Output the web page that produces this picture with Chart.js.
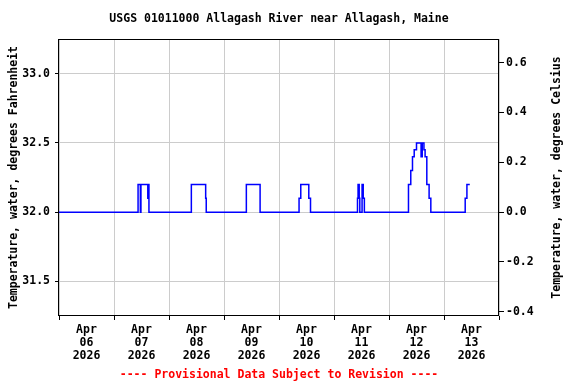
<!DOCTYPE html>
<html>
<head>
<meta charset="utf-8">
<script src="https://cdn.jsdelivr.net/npm/chart.js@4"></script>
<style>
  body { margin: 0; background: #fff; }
  canvas { display: block; }
</style>
</head>
<body>
<canvas id="chartTemp" width="576" height="384"></canvas>
<script>
// hours since Apr 06 2026 00:00, value in degrees F (step changes)
const hours = [0, 34.5, 35.5, 35.75, 38.75, 39.0, 39.25,
  57.75, 64.0, 64.25,
  81.75, 87.75,
  104.75, 105.5, 109.0, 109.75,
  130.25, 130.5, 131.0, 131.25, 132.25, 132.75, 133.25,
  152.5, 153.5, 154.25, 155.0, 156.0, 158.0, 158.5, 159.25, 159.75, 160.5, 161.5, 162.25,
  177.25, 178.0, 179.25];
const tempF = [32.0, 32.2, 32.0, 32.2, 32.1, 32.2, 32.0,
  32.2, 32.1, 32.0,
  32.2, 32.0,
  32.1, 32.2, 32.1, 32.0,
  32.1, 32.2, 32.1, 32.0, 32.2, 32.1, 32.0,
  32.2, 32.3, 32.4, 32.45, 32.5, 32.4, 32.5, 32.45, 32.4, 32.2, 32.1, 32.0,
  32.1, 32.2, 32.2];

const dayLabels = ['06', '07', '08', '09', '10', '11', '12', '13'];
const leftTicks = [31.5, 32.0, 32.5, 33.0];
const rightTicks = [-0.4, -0.2, 0.0, 0.2, 0.4, 0.6];

const yMinF = 31.25, yMaxF = 33.25;
const toC = f => (f - 32) / 1.8;

const FONT = 'DejaVu Sans Mono';
const tickFont = { family: FONT, size: 11.5, weight: 'bold', lineHeight: 1.13 };
const gridGray = '#cccccc';

const points = hours.map((h, i) => ({ x: h, y: tempF[i] }));

// titles, footer and the black frame round the plot
const textPlugin = {
  id: 'usgsText',
  beforeDraw(chart) {
    const ctx = chart.ctx;
    ctx.save();
    ctx.fillStyle = '#fff';
    ctx.fillRect(0, 0, chart.width, chart.height);
    ctx.restore();
  },
  afterDraw(chart) {
    const { ctx, chartArea: a } = chart;
    const cx = (a.left + a.right) / 2;
    const cy = (a.top + a.bottom) / 2;
    ctx.save();
    ctx.strokeStyle = '#000';
    ctx.lineWidth = 1;
    ctx.strokeRect(Math.round(a.left) - 0.5, Math.round(a.top) + 0.5,
      Math.round(a.right - a.left), Math.round(a.bottom - a.top) - 1);

    ctx.font = 'bold 11.5px "' + FONT + '"';
    ctx.textAlign = 'center';
    ctx.textBaseline = 'middle';
    ctx.fillStyle = '#000';
    ctx.fillText('USGS 01011000 Allagash River near Allagash, Maine', cx, 19);

    ctx.fillStyle = '#ff0000';
    ctx.fillText('---- Provisional Data Subject to Revision ----', cx, 375);

    ctx.fillStyle = '#000';
    ctx.translate(14, cy);
    ctx.rotate(-Math.PI / 2);
    ctx.fillText('Temperature, water, degrees Fahrenheit', 0, 0);
    ctx.restore();

    ctx.save();
    ctx.font = 'bold 11.5px "' + FONT + '"';
    ctx.textAlign = 'center';
    ctx.textBaseline = 'middle';
    ctx.fillStyle = '#000';
    ctx.translate(557, cy);
    ctx.rotate(-Math.PI / 2);
    ctx.fillText('Temperature, water, degrees Celsius', 0, 0);
    ctx.restore();
  }
};

const config = {
  type: 'line',
  data: {
    datasets: [{
      data: points,
      borderColor: '#0000ff',
      borderWidth: 1.5,
      stepped: 'before',
      pointRadius: 0,
      fill: false,
      yAxisID: 'y'
    }]
  },
  options: {
    responsive: false,
    animation: false,
    devicePixelRatio: 1,
    layout: { padding: { top: 39, left: 0, right: 0, bottom: 0 } },
    plugins: {
      legend: { display: false },
      tooltip: { enabled: false }
    },
    scales: {
      x: {
        type: 'linear',
        min: 0,
        max: 192,
        afterFit(scale) { scale.height = 68; },
        afterBuildTicks(scale) {
          const t = [];
          for (let h = 0; h <= 192; h += 12) t.push({ value: h });
          scale.ticks = t;
        },
        border: { display: false },
        grid: {
          color: c => (c.tick && c.tick.value % 24 === 0) ? gridGray : 'rgba(0,0,0,0)',
          tickColor: c => (c.tick && c.tick.value % 24 === 0) ? '#000' : 'rgba(0,0,0,0)',
          tickLength: 4
        },
        ticks: {
          autoSkip: false,
          maxRotation: 0,
          padding: 4,
          color: '#000',
          font: tickFont,
          callback: v => {
            if (v % 24 !== 12) return '';
            return ['Apr', dayLabels[Math.floor(v / 24)], '2026'];
          }
        }
      },
      y: {
        position: 'left',
        min: yMinF,
        max: yMaxF,
        afterFit(scale) { scale.width = 59; },
        afterBuildTicks(scale) { scale.ticks = leftTicks.map(v => ({ value: v })); },
        border: { display: false },
        grid: { color: gridGray, tickColor: '#000', tickLength: 4 },
        ticks: {
          padding: 5,
          color: '#000',
          font: tickFont,
          callback: v => v.toFixed(1)
        }
      },
      yC: {
        position: 'right',
        min: toC(yMinF),
        max: toC(yMaxF),
        afterFit(scale) { scale.width = 77; },
        afterBuildTicks(scale) { scale.ticks = rightTicks.map(v => ({ value: v })); },
        border: { display: false },
        grid: { drawOnChartArea: false, tickColor: '#000', tickLength: 5 },
        ticks: {
          padding: 2,
          color: '#000',
          font: tickFont,
          callback: v => v.toFixed(1)
        }
      }
    }
  },
  plugins: [textPlugin]
};

const chartTemp = new Chart(document.getElementById('chartTemp'), config);
</script>
</body>
</html>
